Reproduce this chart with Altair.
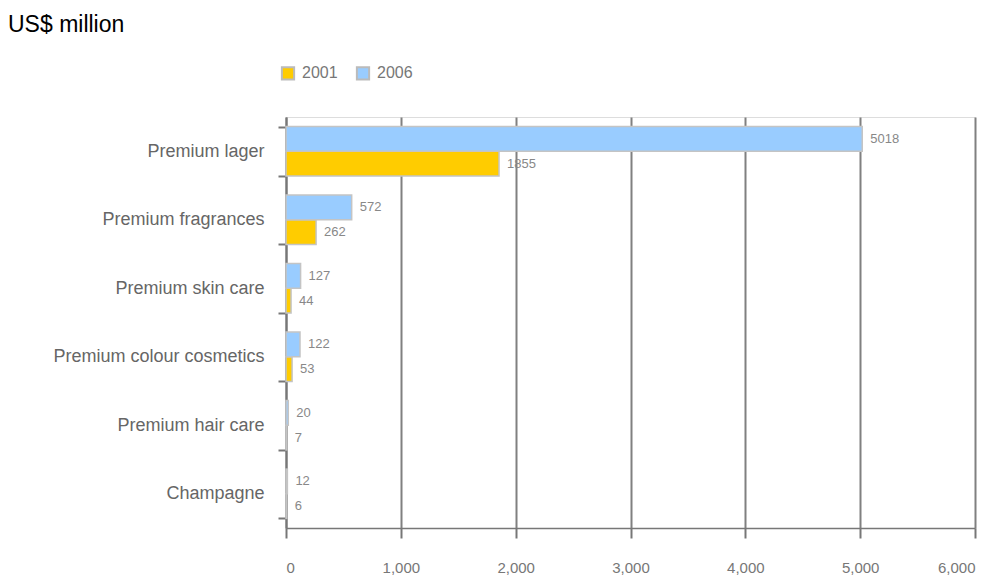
import altair as alt
import pandas as pd

categories = ["Premium lager", "Premium fragrances", "Premium skin care",
              "Premium colour cosmetics", "Premium hair care", "Champagne"]
values_2001 = [1855, 262, 44, 53, 7, 6]
values_2006 = [5018, 572, 127, 122, 20, 12]
years = ["2001", "2006"]
x_ticks = [0, 1000, 2000, 3000, 4000, 5000, 6000]

rows = []
for c, a, b in zip(categories, values_2001, values_2006):
    rows.append({"category": c, "year": "2001", "value": a})
    rows.append({"category": c, "year": "2006", "value": b})
df = pd.DataFrame(rows)

FONT = "Liberation Sans"

y_enc = alt.Y("category:N", sort=categories, title=None,
              scale=alt.Scale(paddingInner=0.28, paddingOuter=0.14),
              axis=alt.Axis(tickBand="extent", domainColor="#777777", domainWidth=2,
                            tickColor="#777777", tickWidth=2, tickSize=8,
                            labelFontSize=18, labelColor="#666666", labelPadding=14,
                            labelFont=FONT, labelLimit=400, grid=False))
yoff = alt.YOffset("year:N", sort=["2006", "2001"],
                   scale=alt.Scale(paddingInner=0, paddingOuter=0))
x_enc = alt.X("value:Q", title=None,
              scale=alt.Scale(domain=[0, 6000], nice=False),
              axis=alt.Axis(values=x_ticks, format=",d", grid=True,
                            gridColor="#808080", gridWidth=2,
                            domainColor="#777777", domainWidth=1.5,
                            tickColor="#777777", tickWidth=2, tickSize=10,
                            labelFontSize=15, labelColor="#777777", labelPadding=22,
                            labelFont=FONT))

bars = alt.Chart(df).mark_bar(stroke="#c4c4c4", strokeWidth=1.5).encode(
    x=x_enc,
    y=y_enc,
    yOffset=yoff,
    color=alt.Color("year:N",
                    scale=alt.Scale(domain=years, range=["#FFCC00", "#99CCFF"]),
                    legend=alt.Legend(title=None, orient="none", legendX=-6, legendY=-52,
                                      direction="horizontal", symbolType="square",
                                      symbolSize=150, symbolStrokeColor="#bbbbbb",
                                      symbolStrokeWidth=2, symbolOpacity=1,
                                      labelFontSize=16, labelColor="#777777",
                                      labelFont=FONT, labelOffset=6,
                                      columnPadding=14, padding=0)),
)

labels = alt.Chart(df).mark_text(align="left", baseline="middle", dx=8,
                                 fontSize=13, color="#888888", font=FONT).encode(
    x="value:Q",
    y=alt.Y("category:N", sort=categories),
    yOffset=yoff,
    text=alt.Text("value:Q", format="d"),
)

title_df = pd.DataFrame({"t": ["US$ million"]})
title = alt.Chart(title_df).mark_text(align="left", baseline="alphabetic",
                                      fontSize=23, color="#000000", font=FONT).encode(
    x=alt.value(-278), y=alt.value(-85), text="t:N")

chart = alt.layer(bars, labels, title).properties(
    width=689, height=411,
    autosize=alt.AutoSizeParams(type="none"),
    padding={"left": 286, "top": 117, "right": 25, "bottom": 51},
).configure_view(stroke="#888888", strokeWidth=1).configure(background="white")

chart.save("out.html", embed_options={"renderer": "svg", "actions": False})
